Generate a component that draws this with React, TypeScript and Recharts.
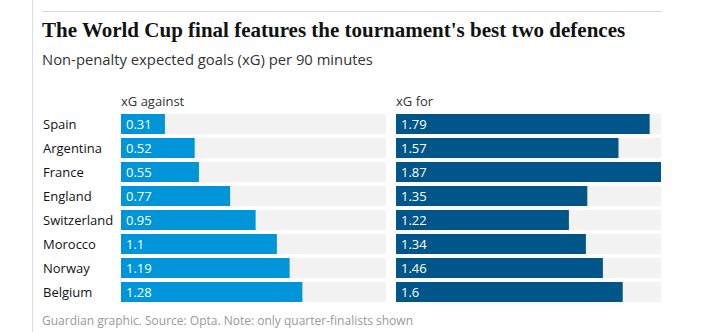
import { BarChart, Bar, XAxis, YAxis, LabelList } from "recharts";

const teams = ["Spain", "Argentina", "France", "England", "Switzerland", "Morocco", "Norway", "Belgium"];
const xgAgainst = [0.31, 0.52, 0.55, 0.77, 0.95, 1.1, 1.19, 1.28];
const xgFor = [1.79, 1.57, 1.87, 1.35, 1.22, 1.34, 1.46, 1.6];

const rows = teams.map((team, i) => ({ team, against: xgAgainst[i], for: xgFor[i] }));
const maxVal = Math.max(...xgAgainst, ...xgFor);

const sans = "'Open Sans', 'Noto Sans', sans-serif";

const TeamTick = ({ y, payload }: any) => (
  <text x={0} y={y} dy={5} textAnchor="start" fontSize={13} fill="#121212" fontFamily={sans}>
    {payload.value}
  </text>
);

const fmt = (v: any) => String(v);

export default function App() {
  return (
    <div style={{ position: "fixed", left: 0, top: 0, width: 720, height: 332, background: "#fff", fontFamily: sans, overflow: "hidden" }}>
      <div style={{ position: "absolute", left: 32, top: 0, width: 1, height: 332, background: "#dcdcdc" }} />
      <div style={{ position: "absolute", left: 42, top: 11, width: 620, height: 1, background: "#dcdcdc" }} />
      <div style={{ position: "absolute", left: 42, top: 18, fontFamily: "'Liberation Serif', serif", fontWeight: 700, fontSize: 21, color: "#121212", whiteSpace: "nowrap" }}>
        The World Cup final features the tournament's best two defences
      </div>
      <div style={{ position: "absolute", left: 42, top: 49, fontSize: 14.8, color: "#333", whiteSpace: "nowrap" }}>
        Non-penalty expected goals (xG) per 90 minutes
      </div>
      <div style={{ position: "absolute", left: 121, top: 92, fontSize: 13, color: "#333" }}>xG against</div>
      <div style={{ position: "absolute", left: 396, top: 92, fontSize: 13, color: "#333" }}>xG for</div>

      <div style={{ position: "absolute", left: 43, top: 112 }}>
        <BarChart width={343} height={192} data={rows} layout="vertical" margin={{ top: 0, right: 0, bottom: 0, left: 0 }} barCategoryGap={0}>
          <XAxis type="number" domain={[0, maxVal]} hide />
          <YAxis type="category" dataKey="team" width={78} axisLine={false} tickLine={false} tick={<TeamTick />} />
          <Bar dataKey="against" fill="#0095d9" barSize={20} background={{ fill: "#f2f2f2" }} isAnimationActive={false}>
            <LabelList dataKey="against" position="insideLeft" offset={5} fill="#fff" fontSize={13} fontFamily={sans} formatter={fmt} />
          </Bar>
        </BarChart>
      </div>

      <div style={{ position: "absolute", left: 396, top: 112 }}>
        <BarChart width={265} height={192} data={rows} layout="vertical" margin={{ top: 0, right: 0, bottom: 0, left: 0 }} barCategoryGap={0}>
          <XAxis type="number" domain={[0, maxVal]} hide />
          <YAxis type="category" dataKey="team" hide />
          <Bar dataKey="for" fill="#005689" barSize={20} background={{ fill: "#f2f2f2" }} isAnimationActive={false}>
            <LabelList dataKey="for" position="insideLeft" offset={5} fill="#fff" fontSize={13} fontFamily={sans} formatter={fmt} />
          </Bar>
        </BarChart>
      </div>

      <div style={{ position: "absolute", left: 42, top: 312, fontSize: 12, color: "#999", whiteSpace: "nowrap" }}>
        Guardian graphic. Source: Opta. Note: only quarter-finalists shown
      </div>
    </div>
  );
}
